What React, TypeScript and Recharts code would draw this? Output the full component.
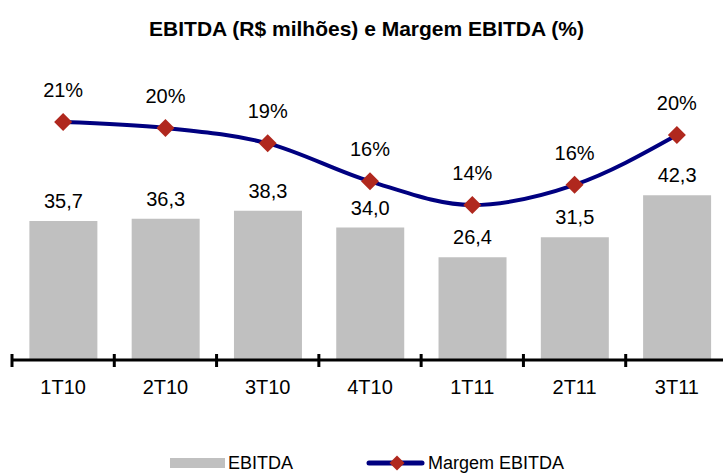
import { ComposedChart, Bar, Line, XAxis, YAxis, LabelList } from 'recharts';

const periods = ['1T10', '2T10', '3T10', '4T10', '1T11', '2T11', '3T11'];
const ebitda = [35.7, 36.3, 38.3, 34.0, 26.4, 31.5, 42.3];
const margem = [21.0, 20.5, 19.2, 16.0, 14.0, 15.7, 19.9];

const data = periods.map((p, i) => ({ periodo: p, ebitda: ebitda[i], margem: margem[i] }));

const FONT = 'Arial, "Liberation Sans", Helvetica, sans-serif';
const CHART_W = 730;
const M_LEFT = 12;
const M_RIGHT = 2;
const BAND = (CHART_W - M_LEFT - M_RIGHT) / periods.length;

// category label plus the boundary tick marks between categories
function CatTick(props: any) {
  const { x, y, payload, index } = props;
  const left = x - BAND / 2;
  const right = x + BAND / 2;
  return (
    <g>
      <line x1={left} x2={left} y1={y - 6} y2={y + 7} stroke="#000" strokeWidth={3} />
      {index === periods.length - 1 && (
        <line x1={right} x2={right} y1={y - 6} y2={y + 7} stroke="#000" strokeWidth={3} />
      )}
      <text x={x} y={y + 34} textAnchor="middle" fill="#000" fontSize={20} fontFamily={FONT}>
        {payload.value}
      </text>
    </g>
  );
}

function Diamond(props: any) {
  const { cx, cy } = props;
  if (cx == null || cy == null) return null;
  const r = 9;
  return (
    <path
      d={`M${cx},${cy - r} L${cx + r},${cy} L${cx},${cy + r} L${cx - r},${cy} Z`}
      fill="#B0281E"
    />
  );
}

export default function App() {
  return (
    <div
      style={{
        position: 'absolute',
        left: 0,
        top: 0,
        width: 723,
        height: 473,
        overflow: 'hidden',
        background: '#fff',
        fontFamily: FONT,
      }}
    >
      <div
        style={{
          position: 'absolute',
          top: 16,
          left: 0,
          width: 733,
          textAlign: 'center',
          fontSize: 21,
          lineHeight: '25px',
          fontWeight: 'bold',
          color: '#000',
        }}
      >
        EBITDA (R$ milhões) e Margem EBITDA (%)
      </div>
      <ComposedChart
        width={CHART_W}
        height={473}
        data={data}
        margin={{ top: 48.5, left: M_LEFT, right: M_RIGHT, bottom: 83 }}
        barCategoryGap="17%"
        style={{ position: 'absolute', left: 0, top: 0 }}
      >
        <XAxis
          xAxisId="cat"
          dataKey="periodo"
          height={30}
          axisLine={{ stroke: '#000', strokeWidth: 3 }}
          tickLine={false}
          tickSize={0}
          tickMargin={0}
          interval={0}
          tick={<CatTick />}
        />
        <YAxis yAxisId="val" hide domain={[0, 80]} />
        <YAxis yAxisId="pct" hide orientation="right" domain={[0.93, 27.2]} />
        <Bar
          xAxisId="cat"
          yAxisId="val"
          dataKey="ebitda"
          fill="#C0C0C0"
          isAnimationActive={false}
        >
          <LabelList
            dataKey="ebitda"
            position="top"
            offset={13}
            formatter={(v: any) => Number(v).toFixed(1).replace('.', ',')}
            style={{ fill: '#000', fontSize: 20, fontFamily: FONT }}
          />
        </Bar>
        <Line
          xAxisId="cat"
          yAxisId="pct"
          dataKey="margem"
          type="monotone"
          stroke="#000080"
          strokeWidth={4}
          dot={<Diamond />}
          activeDot={false}
          isAnimationActive={false}
        >
          <LabelList
            dataKey="margem"
            position="top"
            offset={25}
            formatter={(v: any) => `${Math.round(Number(v) - 0.01)}%`}
            style={{ fill: '#000', fontSize: 20, fontFamily: FONT }}
          />
        </Line>
      </ComposedChart>
      <div style={{ position: 'absolute', top: 452, left: 170, height: 22, display: 'flex', alignItems: 'center', fontSize: 18 }}>
        <div style={{ width: 55, height: 10, background: '#C0C0C0', marginRight: 3 }} />
        <span>EBITDA</span>
      </div>
      <div style={{ position: 'absolute', top: 452, left: 366, height: 22, display: 'flex', alignItems: 'center', fontSize: 18 }}>
        <svg width={59} height={18} style={{ marginRight: 3 }}>
          <line x1={3} x2={56} y1={9} y2={9} stroke="#000080" strokeWidth={5} strokeLinecap="round" />
          <path d="M31,1.5 L38.5,9 L31,16.5 L23.5,9 Z" fill="#B0281E" />
        </svg>
        <span>Margem EBITDA</span>
      </div>
    </div>
  );
}
